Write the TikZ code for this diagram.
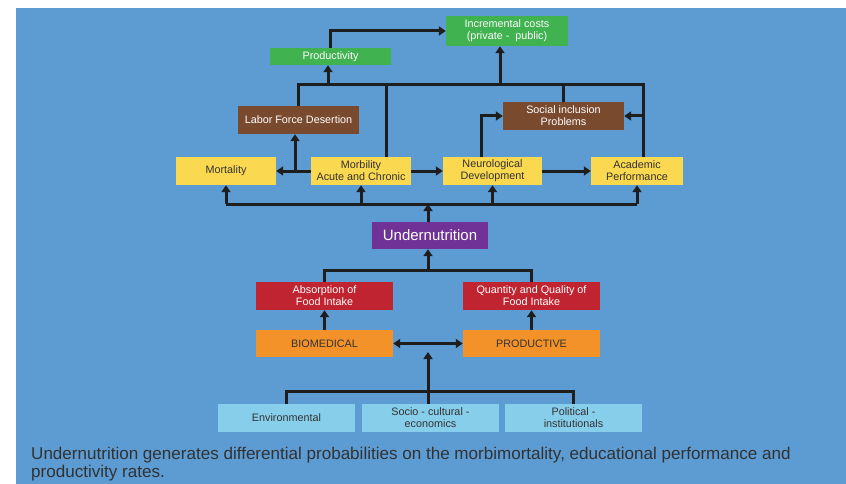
\documentclass[tikz,border=0pt]{standalone}
\usepackage{fontspec}
\setmainfont{Liberation Sans}
\usetikzlibrary{arrows.meta,calc}
\definecolor{bgblue}{RGB}{93,156,211}
\definecolor{bxgreen}{RGB}{64,178,80}
\definecolor{bxbrown}{RGB}{122,74,46}
\definecolor{bxyellow}{RGB}{250,216,80}
\definecolor{bxpurple}{RGB}{112,50,150}
\definecolor{bxred}{RGB}{192,36,48}
\definecolor{bxorange}{RGB}{243,146,41}
\definecolor{bxlight}{RGB}{135,206,235}
\definecolor{ink}{RGB}{30,30,30}
\definecolor{dtext}{RGB}{50,50,50}
\tikzset{
  bx/.style={rectangle, inner sep=0pt, align=center, font=\fontsize{10.8}{11.8}\selectfont},
  gbox/.style={bx, fill=bxgreen, text=white, minimum width=121pt},
  brbox/.style={bx, fill=bxbrown, text=white, minimum width=121pt, minimum height=28pt},
  ybox/.style={bx, fill=bxyellow, text=dtext, minimum height=28pt},
  rbox/.style={bx, fill=bxred, text=white, minimum width=137pt, minimum height=28pt},
  obox/.style={bx, fill=bxorange, text=dtext, minimum width=137pt, minimum height=27pt},
  lbox/.style={bx, fill=bxlight, text=dtext, minimum width=137pt, minimum height=28pt},
  conn/.style={draw=ink, line width=3pt},
  arr/.style={conn, -{Triangle[width=9pt,length=7pt]}},
  darr/.style={conn, {Triangle[width=9pt,length=7pt]}-{Triangle[width=9pt,length=7pt]}},
}
\begin{document}
\begin{tikzpicture}[x=1pt,y=-1pt]
\useasboundingbox (0,0) rectangle (846,484);
\fill[white] (0,0) rectangle (846,484);
\fill[bgblue] (16,8) rectangle (846,484);

% top level
\node[gbox, minimum width=122pt, minimum height=30pt] (inc) at (507,31) {Incremental costs\\(private -\ \ public)};
\node[gbox, minimum height=17pt] (prod) at (330.5,56.5) {Productivity};
\node[brbox] (lab) at (298.5,120) {Labor Force Desertion};
\node[brbox] (soc) at (563.5,116) {Social inclusion\\Problems};

% yellow row
\node[ybox, minimum width=100pt] (mort) at (226,171) {Mortality};
\node[ybox, minimum width=100pt] (mbl) at (361,171) {Morbility\\Acute and Chronic};
\node[ybox, minimum width=99pt] (neu) at (492.5,171) {Neurological\\Development};
\node[ybox, minimum width=92pt] (aca) at (637,171) {Academic\\Performance};

% undernutrition
\node[bx, fill=bxpurple, text=white, minimum width=116pt, minimum height=27pt, font=\fontsize{15}{16}\selectfont] (und) at (430,235.5) {Undernutrition};

% red / orange
\node[rbox] (abs) at (324.5,296) {Absorption of\\Food Intake};
\node[rbox] (qua) at (531.5,296) {Quantity and Quality of\\Food Intake};
\node[obox] (bio) at (324.5,343.5) {BIOMEDICAL};
\node[obox] (pro) at (531.5,343.5) {PRODUCTIVE};

% light blue
\node[lbox] (env) at (286.5,418) {Environmental};
\node[lbox] (sce) at (430.5,418) {Socio - cultural -\\economics};
\node[lbox] (pol) at (573.5,418) {Political -\\institutionals};

% caption
\node[anchor=north west, align=left, inner sep=0pt, text=dtext, font=\fontsize{17.05}{18.5}\selectfont] (cap) at (31,446.5)
  {Undernutrition generates differential probabilities on the morbimortality, educational performance and\\productivity rates.};

% ---- connectors ----
\coordinate (tbR) at (643,85);
\draw[arr] (prod.north) |- (inc.west);
\draw[conn] (lab.north) |- (tbR) -- (tbR |- aca.north);
\draw[arr] ([xshift=-2.5pt]prod.south |- tbR) -- ([xshift=-2.5pt]prod.south);
\draw[arr] ([xshift=-7pt]inc.south |- tbR) -- ([xshift=-7pt]inc.south);
\draw[conn] ([xshift=25pt]mbl.north) -- ([xshift=25pt]mbl.north |- tbR);
\draw[conn] (soc.north) -- (soc.north |- tbR);
\draw[arr] (tbR |- soc.east) -- (soc.east);
\draw[arr] ([xshift=-11.5pt]neu.north) |- (soc.west);

\draw[arr] (mbl.west) -- (mort.east);
\draw[arr] ([xshift=-3.5pt]lab.south |- mbl.west) -- ([xshift=-3.5pt]lab.south);
\draw[arr] (mbl.east) -- (neu.west);
\draw[arr] (neu.east) -- (aca.west);

\coordinate (bb) at (0,204);
\draw[conn] (mort.south |- bb) -- (aca.south |- bb);
\draw[arr] (mort.south |- bb) -- (mort.south);
\draw[arr] (mbl.south |- bb) -- (mbl.south);
\draw[arr] (neu.south |- bb) -- (neu.south);
\draw[arr] (aca.south |- bb) -- (aca.south);
\draw[arr] ([xshift=-2pt]und.north) -- ([xshift=-2pt]und.north |- bb);

\coordinate (lb) at (0,270);
\draw[conn] (abs.north) -- (abs.north |- lb) -- (qua.north |- lb) -- (qua.north);
\draw[arr] ([xshift=-2pt]und.south |- lb) -- ([xshift=-2pt]und.south);
\draw[arr] (bio.north) -- (abs.south);
\draw[arr] (pro.north) -- (qua.south);
\draw[darr] (bio.east) -- (pro.west);

\coordinate (eb) at (0,391);
\draw[arr] ([xshift=-2.5pt]sce.north) -- ([xshift=-2.5pt]sce.north |- 0,352);
\draw[conn] (env.north) -- (env.north |- eb) -- (pol.north |- eb) -- (pol.north);
\end{tikzpicture}
\end{document}
